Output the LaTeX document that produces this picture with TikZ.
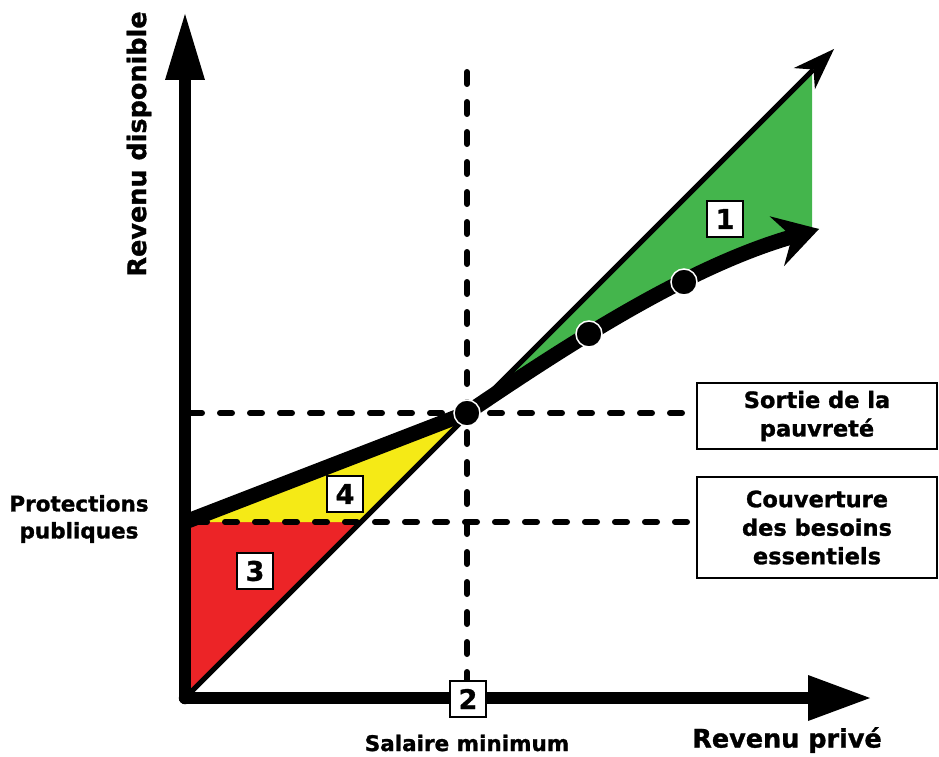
\documentclass[tikz,border=0pt]{standalone}
\usepackage{fontspec}
\setmainfont{DejaVu Sans}[BoldFeatures={FakeBold=1.2}]
\usetikzlibrary{arrows.meta}
\definecolor{gfill}{RGB}{68,181,76}
\definecolor{yfill}{RGB}{245,234,22}
\definecolor{rfill}{RGB}{236,36,39}
\begin{document}
\begin{tikzpicture}[x=1pt,y=-1pt,
 numbox/.style={draw=black, line width=2pt, fill=white, minimum width=36pt, minimum height=36pt, inner sep=0pt, font=\fontsize{27}{27}\selectfont\bfseries},
 labelbox/.style={draw=black, line width=2pt, fill=white, inner sep=0pt, align=center, font=\fontsize{22.5}{28.5}\selectfont\bfseries},
 lbl/.style={align=center, font=\fontsize{21.5}{27}\selectfont\bfseries},
 axislbl/.style={font=\fontsize{25.5}{25.5}\selectfont\bfseries},
 guide/.style={line width=6pt, dash pattern=on 12pt off 18pt, line cap=round},
 axisline/.style={line width=12.5pt, line cap=round},
 dotnode/.style={circle, fill=black, draw=white, line width=1.5pt, minimum size=26pt, inner sep=0pt},
]
\useasboundingbox (0,0) rectangle (939,757);
% key points
\coordinate (O) at (185,698);
\coordinate (P) at (185,522);
\coordinate (C) at (467,413);
\coordinate (R) at (360,522);
\coordinate (ytip) at (185,14);
\coordinate (xtip) at (870,698);
\coordinate (dtip) at (834,49);
\coordinate (G1) at (812,70);
\coordinate (G2) at (812,228);
\coordinate (ttip) at (819,229);
\coordinate (h1a) at (190,413);
\coordinate (h1b) at (695,413);
\coordinate (h2a) at (195,522);
\coordinate (h2b) at (695,522);
\coordinate (va) at (467,72);
\coordinate (vb) at (467,682);
% fills
\fill[rfill] (P) -- (R) -- (O) -- cycle;
\fill[yfill] (P) -- (C) -- (R) -- cycle;
\fill[gfill] (C) -- (G1) -- (G2) -- (ttip) .. controls (691,266) and (576,339) .. (C) -- cycle;
% guides
\draw[guide] (h1a) -- (h1b);
\draw[guide] (h2a) -- (h2b);
\draw[guide] (va) -- (vb);
% diagonal
\draw[line width=5pt, -{Stealth[length=42pt,width=30pt,inset=13pt,line width=0pt]}] (O) -- (dtip);
% axes
\draw[axisline, -{Triangle[length=66pt,width=40pt,line width=0pt]}] (O) -- (ytip);
\draw[axisline, -{Triangle[length=62pt,width=46pt,line width=0pt]}] (O) -- (xtip);
% income curve
\draw[line width=15pt, line join=round, -{Stealth[length=44pt,width=52pt,inset=16pt,line width=0pt]}] (P) -- (C) .. controls (576,339) and (691,266) .. (ttip);
% dots
\node[dotnode] (c0) at (C) {};
\node[dotnode] (d1) at (589,334) {};
\node[dotnode] (d2) at (684,282) {};
% numbered boxes
\node[numbox] (n1) at (725,219) {1};
\node[numbox] (n4) at (345,494) {4};
\node[numbox] (n3) at (255,571) {3};
\node[numbox] (n2) at (468,699) {2};
% label boxes
\node[labelbox, minimum width=240pt, minimum height=66pt] (sortie) at (817,416) {Sortie de la\\pauvreté};
\node[labelbox, minimum width=240pt, minimum height=101pt] (couv) at (817,527.5) {Couverture\\des besoins\\essentiels};
% texts
\node[lbl] (prot) at (79,519) {Protections\\publiques};
\node[axislbl, rotate=90] (ylab) at (139,144) {Revenu disponible};
\node[lbl] (smin) at (467,743) {Salaire minimum};
\node[axislbl] (xlab) at (787,740) {Revenu privé};
\end{tikzpicture}
\end{document}
